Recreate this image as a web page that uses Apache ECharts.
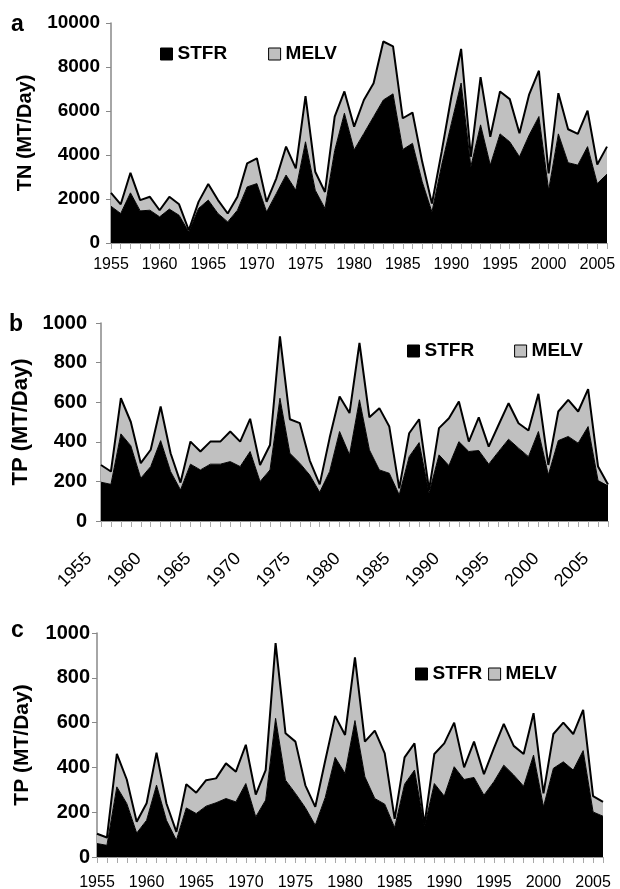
<!DOCTYPE html>
<html>
<head>
<meta charset="utf-8">
<script src="https://cdn.jsdelivr.net/npm/echarts@6/dist/echarts.min.js"></script>
<style>
  html, body { margin: 0; padding: 0; background: #fff; }
  #chart { width: 620px; height: 889px; }
</style>
</head>
<body>
<div id="chart"></div>
<script>
// years on the x axis (same for all three panels)
const years = ['1955','1956','1957','1958','1959','1960','1961','1962','1963','1964',
  '1965','1966','1967','1968','1969','1970','1971','1972','1973','1974',
  '1975','1976','1977','1978','1979','1980','1981','1982','1983','1984',
  '1985','1986','1987','1988','1989','1990','1991','1992','1993','1994',
  '1995','1996','1997','1998','1999','2000','2001','2002','2003','2004',
  '2005','2006'];

// panel a - TN
const tnStfr = [1670,1340,2280,1460,1490,1190,1540,1260,500,1570,
  1950,1340,960,1490,2550,2700,1410,2250,3090,2400,
  4600,2400,1570,4200,5900,4230,4980,5740,6500,6780,
  4250,4530,2780,1410,3540,5440,7270,3470,5370,3540,
  4960,4600,3920,4910,5750,2400,4960,3650,3540,4380,
  2700,3130];
const tnMelv = [610,420,910,490,610,300,560,500,80,300,
  730,610,380,610,1070,1150,460,690,1290,990,
  2080,840,750,1540,990,1060,1520,1520,2660,2160,
  1420,1400,910,380,610,1220,1550,450,2170,1290,
  1930,1940,1070,1850,2080,760,1850,1520,1420,1640,
  870,1250];

// panel b - TP
const tpStfrB = [196,185,440,380,216,275,406,250,157,287,
  258,287,287,300,275,351,199,258,620,342,
  292,232,145,250,452,334,612,359,258,241,
  132,325,396,140,334,280,401,351,356,287,
  351,413,368,325,452,233,406,427,393,477,
  204,178];
const tpMelvB = [87,65,180,120,76,85,172,92,37,114,
  93,114,114,152,126,165,84,126,312,172,
  202,73,40,170,177,211,287,165,312,236,
  33,118,118,17,135,239,203,50,167,89,
  135,182,126,132,190,50,147,185,160,189,
  71,6];

// panel c - TP
const tpStfrC = [60,52,313,239,107,164,321,164,75,219,
  194,227,242,261,246,328,179,254,619,343,
  284,220,142,265,445,373,609,358,261,236,
  131,325,388,134,328,272,403,346,355,276,
  336,410,366,316,455,224,396,425,388,475,
  201,182];
const tpMelvC = [44,35,147,107,50,76,145,75,37,106,
  93,116,109,157,135,173,100,134,336,209,
  231,100,82,165,185,172,282,157,303,227,
  39,120,119,8,132,235,197,54,160,94,
  149,184,130,144,187,60,153,175,161,182,
  71,64];

const tnTicks = [0, 2000, 4000, 6000, 8000, 10000];
const tpTicks = [0, 200, 400, 600, 800, 1000];

const FONT = '"Liberation Sans", Arial, Helvetica, sans-serif';
const GRAY = '#c0c0c0';

const chart = echarts.init(document.getElementById('chart'), null, { renderer: 'canvas' });

function xAxis(idx, opts) {
  return {
    type: 'category',
    gridIndex: idx,
    data: years,
    boundaryGap: false,
    axisLine: { show: true, lineStyle: { color: '#999', width: 1 } },
    axisTick: { show: true, interval: 0, length: 6, lineStyle: { color: '#aaa', width: 1 } },
    axisLabel: Object.assign({
      interval: 4,
      color: '#000',
      fontFamily: FONT,
      fontSize: 16
    }, opts),
    splitLine: { show: false }
  };
}

function yAxis(idx, ticks, name, nameGap, nameSize, margin, labelSize) {
  return {
    type: 'value',
    gridIndex: idx,
    min: ticks[0],
    max: ticks[ticks.length - 1],
    interval: ticks[1] - ticks[0],
    name: name,
    nameLocation: 'middle',
    nameGap: nameGap,
    nameTextStyle: { color: '#000', fontFamily: FONT, fontWeight: 'bold', fontSize: nameSize },
    axisLine: { show: true, lineStyle: { color: '#888', width: 1.5 } },
    axisTick: { show: true, length: 5, lineStyle: { color: '#888', width: 1 } },
    axisLabel: {
      color: '#000', fontFamily: FONT, fontWeight: 'bold', fontSize: labelSize, margin: margin,
      formatter: v => String(v)
    },
    splitLine: { show: false }
  };
}

function legend(left, top, gap) {
  return {
    left: left,
    top: top,
    padding: 0,
    itemWidth: 12,
    itemHeight: 12,
    itemGap: gap,
    selectedMode: false,
    textStyle: { color: '#000', fontFamily: FONT, fontWeight: 'bold', fontSize: 19, lineHeight: 20 },
    data: [
      { name: 'STFR', icon: 'rect', itemStyle: { color: '#000', borderColor: '#000', borderWidth: 1 } },
      { name: 'MELV', icon: 'rect', itemStyle: { color: GRAY, borderColor: '#000', borderWidth: 1 } }
    ]
  };
}

function pair(idx, stfr, melv) {
  const base = {
    type: 'line',
    xAxisIndex: idx,
    yAxisIndex: idx,
    stack: 'p' + idx,
    symbol: 'none',
    showSymbol: false,
    animation: false
  };
  return [
    Object.assign({}, base, {
      name: 'STFR',
      data: stfr,
      itemStyle: { color: '#000' },
      lineStyle: { color: '#000', width: 1 },
      areaStyle: { color: '#000', opacity: 1 }
    }),
    Object.assign({}, base, {
      name: 'MELV',
      data: melv,
      itemStyle: { color: GRAY },
      lineStyle: { color: '#000', width: 2 },
      areaStyle: { color: GRAY, opacity: 1 }
    })
  ];
}

function letter(ch, x, y) {
  return {
    type: 'text',
    x: x,
    y: y,
    style: { text: ch, fill: '#000', font: 'bold 23px ' + FONT, verticalAlign: 'middle', align: 'left' }
  };
}

const option = {
  backgroundColor: '#fff',
  animation: false,
  grid: [
    { left: 111, top: 23, width: 496, height: 220, outerBoundsMode: 'none' },
    { left: 101, top: 323, width: 507, height: 198, outerBoundsMode: 'none' },
    { left: 97, top: 633, width: 506, height: 224, outerBoundsMode: 'none' }
  ],
  xAxis: [
    xAxis(0, { margin: 14 }),
    xAxis(1, { margin: 23, rotate: 45, fontSize: 18, padding: [0, 17, 0, 0] }),
    xAxis(2, { margin: 18 })
  ],
  yAxis: [
    yAxis(0, tnTicks, 'TN (MT/Day)', 76, 20, 11, 19),
    yAxis(1, tpTicks, 'TP (MT/Day)', 69, 22, 14, 20),
    yAxis(2, tpTicks, 'TP (MT/Day)', 64, 21, 7, 20)
  ],
  legend: [
    legend(160, 44, 41),
    legend(407, 341, 40),
    legend(415, 664, 6)
  ],
  graphic: [
    letter('a', 11, 25),
    letter('b', 9, 325),
    letter('c', 11, 631)
  ],
  series: [].concat(
    pair(0, tnStfr, tnMelv),
    pair(1, tpStfrB, tpMelvB),
    pair(2, tpStfrC, tpMelvC)
  )
};

chart.setOption(option);
window.addEventListener('resize', () => chart.resize());
</script>
</body>
</html>
